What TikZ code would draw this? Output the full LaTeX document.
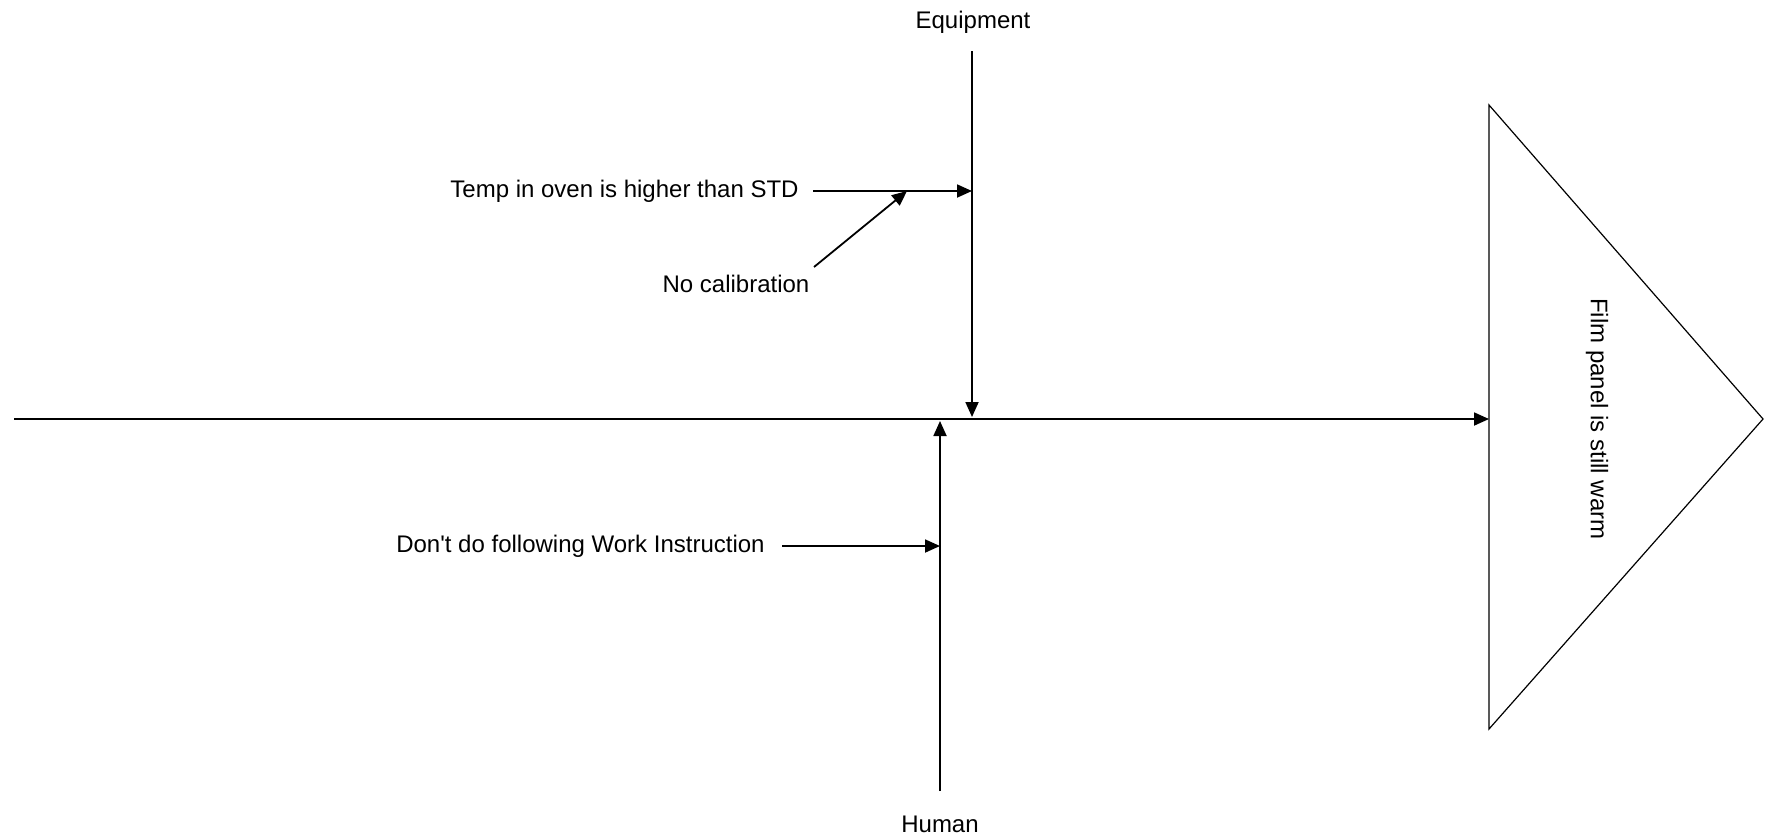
\documentclass[tikz,border=0pt]{standalone}
\usepackage{fontspec}
\setmainfont{Liberation Sans}
\usetikzlibrary{arrows.meta}
\begin{document}
\begin{tikzpicture}[x=0.5pt,y=-0.5pt,
  lbl/.style={inner sep=0pt, font=\fontsize{12pt}{14pt}\selectfont},
  arr/.style={line width=0.9pt, -{Triangle[length=7.5pt,width=6.5pt]}},
  edge/.style={line width=0.6pt, line join=miter}]
\useasboundingbox (0,0) rectangle (1765,837);

% head of the fish: effect box
\coordinate (tA) at (1489,105);
\coordinate (tB) at (1489,729);
\coordinate (tC) at (1763,419);
\draw[edge] (tA) -- (tC) -- (tB) -- cycle;
\node[lbl, rotate=-90] (effect) at (1597,419) {Film panel is still warm};

% spine
\coordinate (tail) at (14,419);
\coordinate (head) at (1489,419);
\draw[arr] (tail) -- (head);

% category: Equipment
\node[lbl] (equip) at (973,22) {Equipment};
\coordinate (eqtop) at (972,51);
\coordinate (eqend) at (972,417);
\draw[arr] (eqtop) -- (eqend);

\node[lbl, anchor=east] (temp) at (799,191) {Temp in oven is higher than STD};
\coordinate (tempS) at (813,191);
\coordinate (tempE) at (972,191);
\draw[arr] (tempS) -- (tempE);

\node[lbl] (calib) at (736,284) {No calibration};
\coordinate (calS) at (814,267);
\coordinate (calE) at (907,191);
\draw[arr] (calS) -- (calE);

% category: Human
\node[lbl] (human) at (940,824) {Human};
\coordinate (hubot) at (940,791);
\coordinate (huend) at (940,421);
\draw[arr] (hubot) -- (huend);

\node[lbl, anchor=east] (work) at (765,546) {Don\textquotesingle t do following Work Instruction};
\coordinate (workS) at (782,546);
\coordinate (workE) at (940,546);
\draw[arr] (workS) -- (workE);
\end{tikzpicture}
\end{document}
